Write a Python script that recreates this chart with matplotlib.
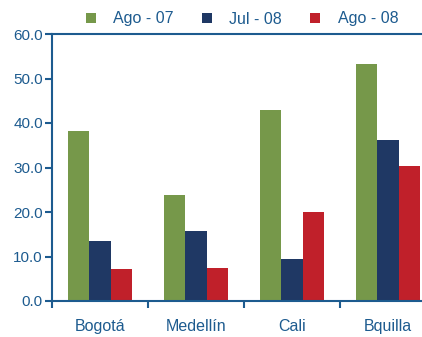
import numpy as np
import matplotlib.pyplot as plt

plt.rcParams['font.family'] = ['Liberation Sans', 'DejaVu Sans']

ciudades = ['Bogotá', 'Medellín', 'Cali', 'Bquilla']
series = ['Ago - 07', 'Jul - 08', 'Ago - 08']
ago07 = [38.2, 23.9, 42.9, 53.2]
jul08 = [13.4, 15.8, 9.4, 36.2]
ago08 = [7.3, 7.5, 20.0, 30.3]

colores = ['#76984a', '#1f3864', '#c0202a']
azul = '#1d5b8f'

fig = plt.figure(figsize=(4.22, 3.37), dpi=100)
# the last category runs past the right edge of the figure
ax = fig.add_axes([52 / 422, 36 / 337, 384 / 422, 267 / 337])

x = np.arange(len(ciudades))
w = 0.22
for i, (vals, nombre) in enumerate(zip([ago07, jul08, ago08], series)):
    ax.bar(x + (i - 1) * w, vals, width=w, color=colores[i], label=nombre,
           linewidth=0)

ax.set_xlim(-0.5, len(ciudades) - 0.5)
ax.set_ylim(0, 60)
ax.set_yticks(np.arange(0, 61, 10))
ax.set_yticklabels([f'{v:.1f}' for v in np.arange(0, 61, 10)])

# category boundary ticks on x, labels centred underneath
ax.set_xticks(np.arange(len(ciudades)) - 0.5)
ax.set_xticklabels([])
ax.set_xticks(x, minor=True)
ax.set_xticklabels(ciudades, minor=True)
ax.tick_params(axis='x', which='minor', length=0, pad=13,
               labelsize=11.5, labelcolor=azul)
ax.tick_params(axis='x', which='major', direction='out', length=5,
               width=1.5, color=azul)
ax.tick_params(axis='y', direction='out', length=5, width=1.5, color=azul,
               labelsize=11, labelcolor=azul, pad=1.5)

for s in ['left', 'bottom', 'top']:
    ax.spines[s].set_color(azul)
    ax.spines[s].set_linewidth(1.5)
ax.spines['right'].set_visible(False)

fig.legend(loc='center left', bbox_to_anchor=(86 / 422, 1 - 19 / 337), ncol=3,
           frameon=False, fontsize=11.5, labelcolor=azul,
           handlelength=0.62, handleheight=0.62, columnspacing=1.75,
           handletextpad=1.1, borderaxespad=0, borderpad=0)

fig.savefig('out.png', dpi=100)
